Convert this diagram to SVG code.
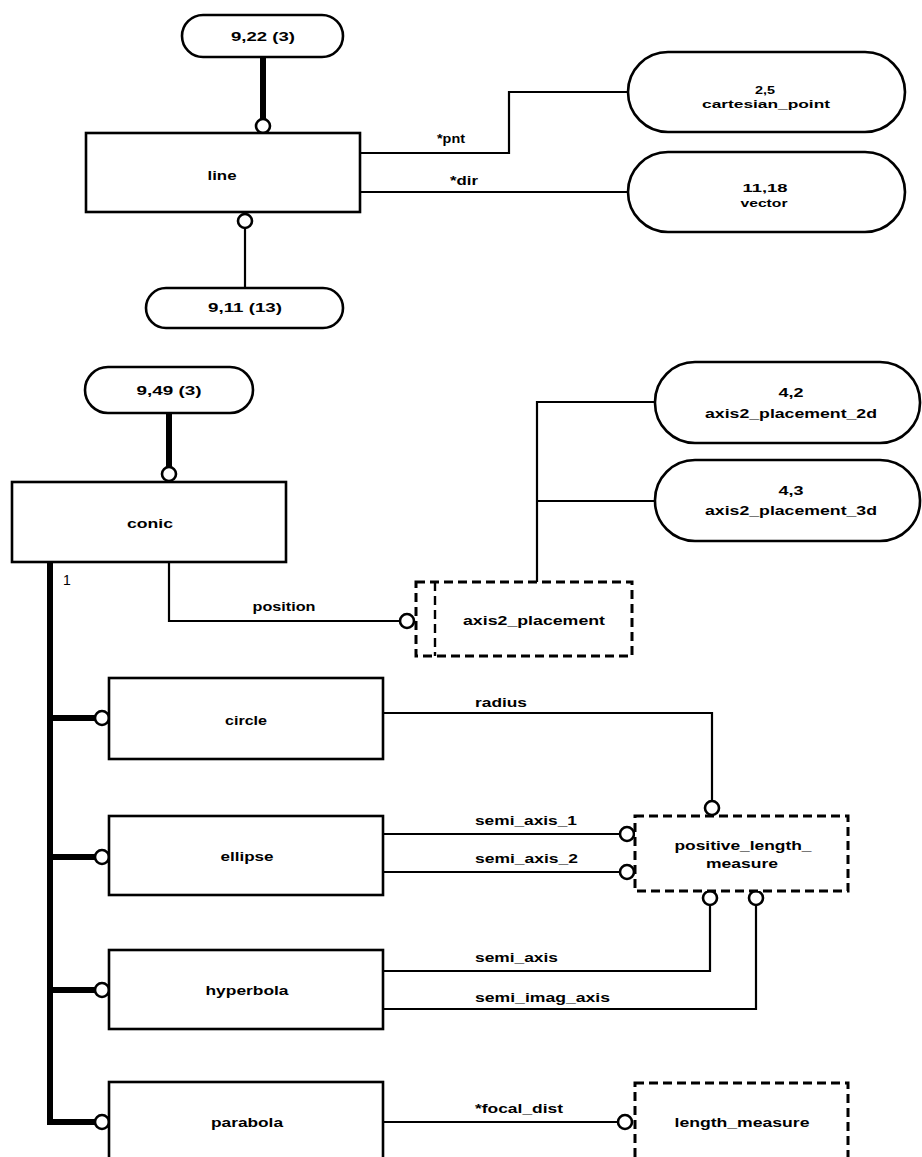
<svg xmlns="http://www.w3.org/2000/svg" width="922" height="1157" viewBox="0 0 922 1157">
<style>
.bg{fill:#fff}
.box{fill:#fff;stroke:#000;stroke-width:2.6}
.pill{fill:#fff;stroke:#000;stroke-width:2.6}
.dbox{fill:#fff;stroke:#000;stroke-width:3;stroke-dasharray:9 5}
.ln{fill:none;stroke:#000;stroke-width:2.2}
.thick{fill:none;stroke:#000;stroke-width:6}
.ring{fill:#fff;stroke:#000;stroke-width:2.6}
text{font-family:"Liberation Sans",Arial,sans-serif;font-size:13px;font-weight:bold;fill:#000;text-anchor:middle;dominant-baseline:central}
.sm{font-size:11.5px}
.lbl{text-anchor:start}
.num{font-weight:normal;font-size:14px;text-anchor:start}
</style>
<rect class="bg" x="0" y="0" width="922" height="1157"/>
<g id="connectors">
<path class="thick" d="M263 57 V120"/>
<path class="ln" d="M245 228 V288"/>
<path class="ln" d="M360 153 H509 V92 H628"/>
<path class="ln" d="M360 192 H628"/>
<path class="thick" d="M169 413 V468"/>
<path class="ln" d="M169 562 V621 H400"/>
<path class="ln" d="M537 582 V402 H655 M537 501 H655"/>
<path class="thick" d="M50 562 V1122 H96 M50 718 H96 M50 857 H96 M50 990 H96"/>
<path class="ln" d="M383 713 H712 V801"/>
<path class="ln" d="M383 834 H620 M383 872 H620"/>
<path class="ln" d="M383 971 H710 V905 M383 1009 H756 V905"/>
<path class="ln" d="M383 1122 H618"/>
<circle class="ring" cx="263" cy="126" r="7"/>
<circle class="ring" cx="245" cy="221" r="7"/>
<circle class="ring" cx="169" cy="474" r="7"/>
<circle class="ring" cx="407" cy="621" r="7"/>
<circle class="ring" cx="102" cy="718" r="7"/>
<circle class="ring" cx="102" cy="857" r="7"/>
<circle class="ring" cx="102" cy="990" r="7"/>
<circle class="ring" cx="102" cy="1122" r="7"/>
<circle class="ring" cx="712" cy="808" r="7"/>
<circle class="ring" cx="627" cy="834" r="7"/>
<circle class="ring" cx="627" cy="872" r="7"/>
<circle class="ring" cx="710" cy="898" r="7"/>
<circle class="ring" cx="756" cy="898" r="7"/>
<circle class="ring" cx="625" cy="1122" r="7"/>
<text x="451" y="138" textLength="28" lengthAdjust="spacingAndGlyphs">*pnt</text>
<text x="464" y="180" textLength="28" lengthAdjust="spacingAndGlyphs">*dir</text>
<text class="num" x="63" y="580">1</text>
<text x="284" y="606" textLength="63" lengthAdjust="spacingAndGlyphs">position</text>
<text class="lbl" x="475" y="702" textLength="52" lengthAdjust="spacingAndGlyphs">radius</text>
<text class="lbl" x="475" y="820" textLength="102" lengthAdjust="spacingAndGlyphs">semi_axis_1</text>
<text class="lbl" x="475" y="858" textLength="103" lengthAdjust="spacingAndGlyphs">semi_axis_2</text>
<text class="lbl" x="475" y="957" textLength="83" lengthAdjust="spacingAndGlyphs">semi_axis</text>
<text class="lbl" x="475" y="997" textLength="135" lengthAdjust="spacingAndGlyphs">semi_imag_axis</text>
<text class="lbl" x="475" y="1108" textLength="88" lengthAdjust="spacingAndGlyphs">*focal_dist</text>
</g>
<g id="n922">
<rect class="pill" x="182" y="15" width="161" height="42" rx="21"/>
<text x="263" y="36" textLength="64" lengthAdjust="spacingAndGlyphs">9,22 (3)</text>
</g>
<g id="line">
<rect class="box" x="86" y="133" width="274" height="79"/>
<text x="222" y="175" textLength="29" lengthAdjust="spacingAndGlyphs">line</text>
</g>
<g id="n911">
<rect class="pill" x="146" y="288" width="197" height="40" rx="20"/>
<text x="245" y="307" textLength="74" lengthAdjust="spacingAndGlyphs">9,11 (13)</text>
</g>
<g id="cartesian_point">
<rect class="pill" x="628" y="52" width="277" height="80" rx="40"/>
<text class="sm" x="765" y="90" textLength="20" lengthAdjust="spacingAndGlyphs">2,5</text>
<text class="sm" x="766" y="104" textLength="128" lengthAdjust="spacingAndGlyphs">cartesian_point</text>
</g>
<g id="vector">
<rect class="pill" x="628" y="152" width="277" height="80" rx="40"/>
<text class="sm" x="765" y="188" textLength="45" lengthAdjust="spacingAndGlyphs">11,18</text>
<text class="sm" x="764" y="203" textLength="47" lengthAdjust="spacingAndGlyphs">vector</text>
</g>
<g id="n949">
<rect class="pill" x="85" y="367" width="168" height="46" rx="23"/>
<text x="169" y="390" textLength="65" lengthAdjust="spacingAndGlyphs">9,49 (3)</text>
</g>
<g id="conic">
<rect class="box" x="12" y="482" width="274" height="80"/>
<text x="150" y="523" textLength="46" lengthAdjust="spacingAndGlyphs">conic</text>
</g>
<g id="axis2_placement_2d">
<rect class="pill" x="655" y="362" width="265" height="81" rx="40"/>
<text x="791" y="392" textLength="25" lengthAdjust="spacingAndGlyphs">4,2</text>
<text x="791" y="413" textLength="172" lengthAdjust="spacingAndGlyphs">axis2_placement_2d</text>
</g>
<g id="axis2_placement_3d">
<rect class="pill" x="655" y="460" width="265" height="81" rx="40"/>
<text x="791" y="490" textLength="25" lengthAdjust="spacingAndGlyphs">4,3</text>
<text x="791" y="510" textLength="172" lengthAdjust="spacingAndGlyphs">axis2_placement_3d</text>
</g>
<g id="axis2_placement">
<rect class="dbox" x="416" y="582" width="216" height="74"/>
<line class="dbox" x1="435" y1="582" x2="435" y2="656" style="stroke-width:2.4"/>
<text x="534" y="620" textLength="142" lengthAdjust="spacingAndGlyphs">axis2_placement</text>
</g>
<g id="circle">
<rect class="box" x="109" y="678" width="274" height="81"/>
<text x="246" y="720" textLength="42" lengthAdjust="spacingAndGlyphs">circle</text>
</g>
<g id="ellipse">
<rect class="box" x="109" y="816" width="274" height="79"/>
<text x="247" y="856" textLength="53" lengthAdjust="spacingAndGlyphs">ellipse</text>
</g>
<g id="hyperbola">
<rect class="box" x="109" y="950" width="274" height="79"/>
<text x="247" y="990" textLength="83" lengthAdjust="spacingAndGlyphs">hyperbola</text>
</g>
<g id="parabola">
<rect class="box" x="109" y="1082" width="274" height="90"/>
<text x="247" y="1122" textLength="72" lengthAdjust="spacingAndGlyphs">parabola</text>
</g>
<g id="positive_length_measure">
<rect class="dbox" x="635" y="816" width="213" height="75"/>
<text x="743" y="845" textLength="137" lengthAdjust="spacingAndGlyphs">positive_length_</text>
<text x="742" y="863" textLength="72" lengthAdjust="spacingAndGlyphs">measure</text>
</g>
<g id="length_measure">
<rect class="dbox" x="635" y="1083" width="213" height="90"/>
<text x="742" y="1122" textLength="135" lengthAdjust="spacingAndGlyphs">length_measure</text>
</g>
</svg>
